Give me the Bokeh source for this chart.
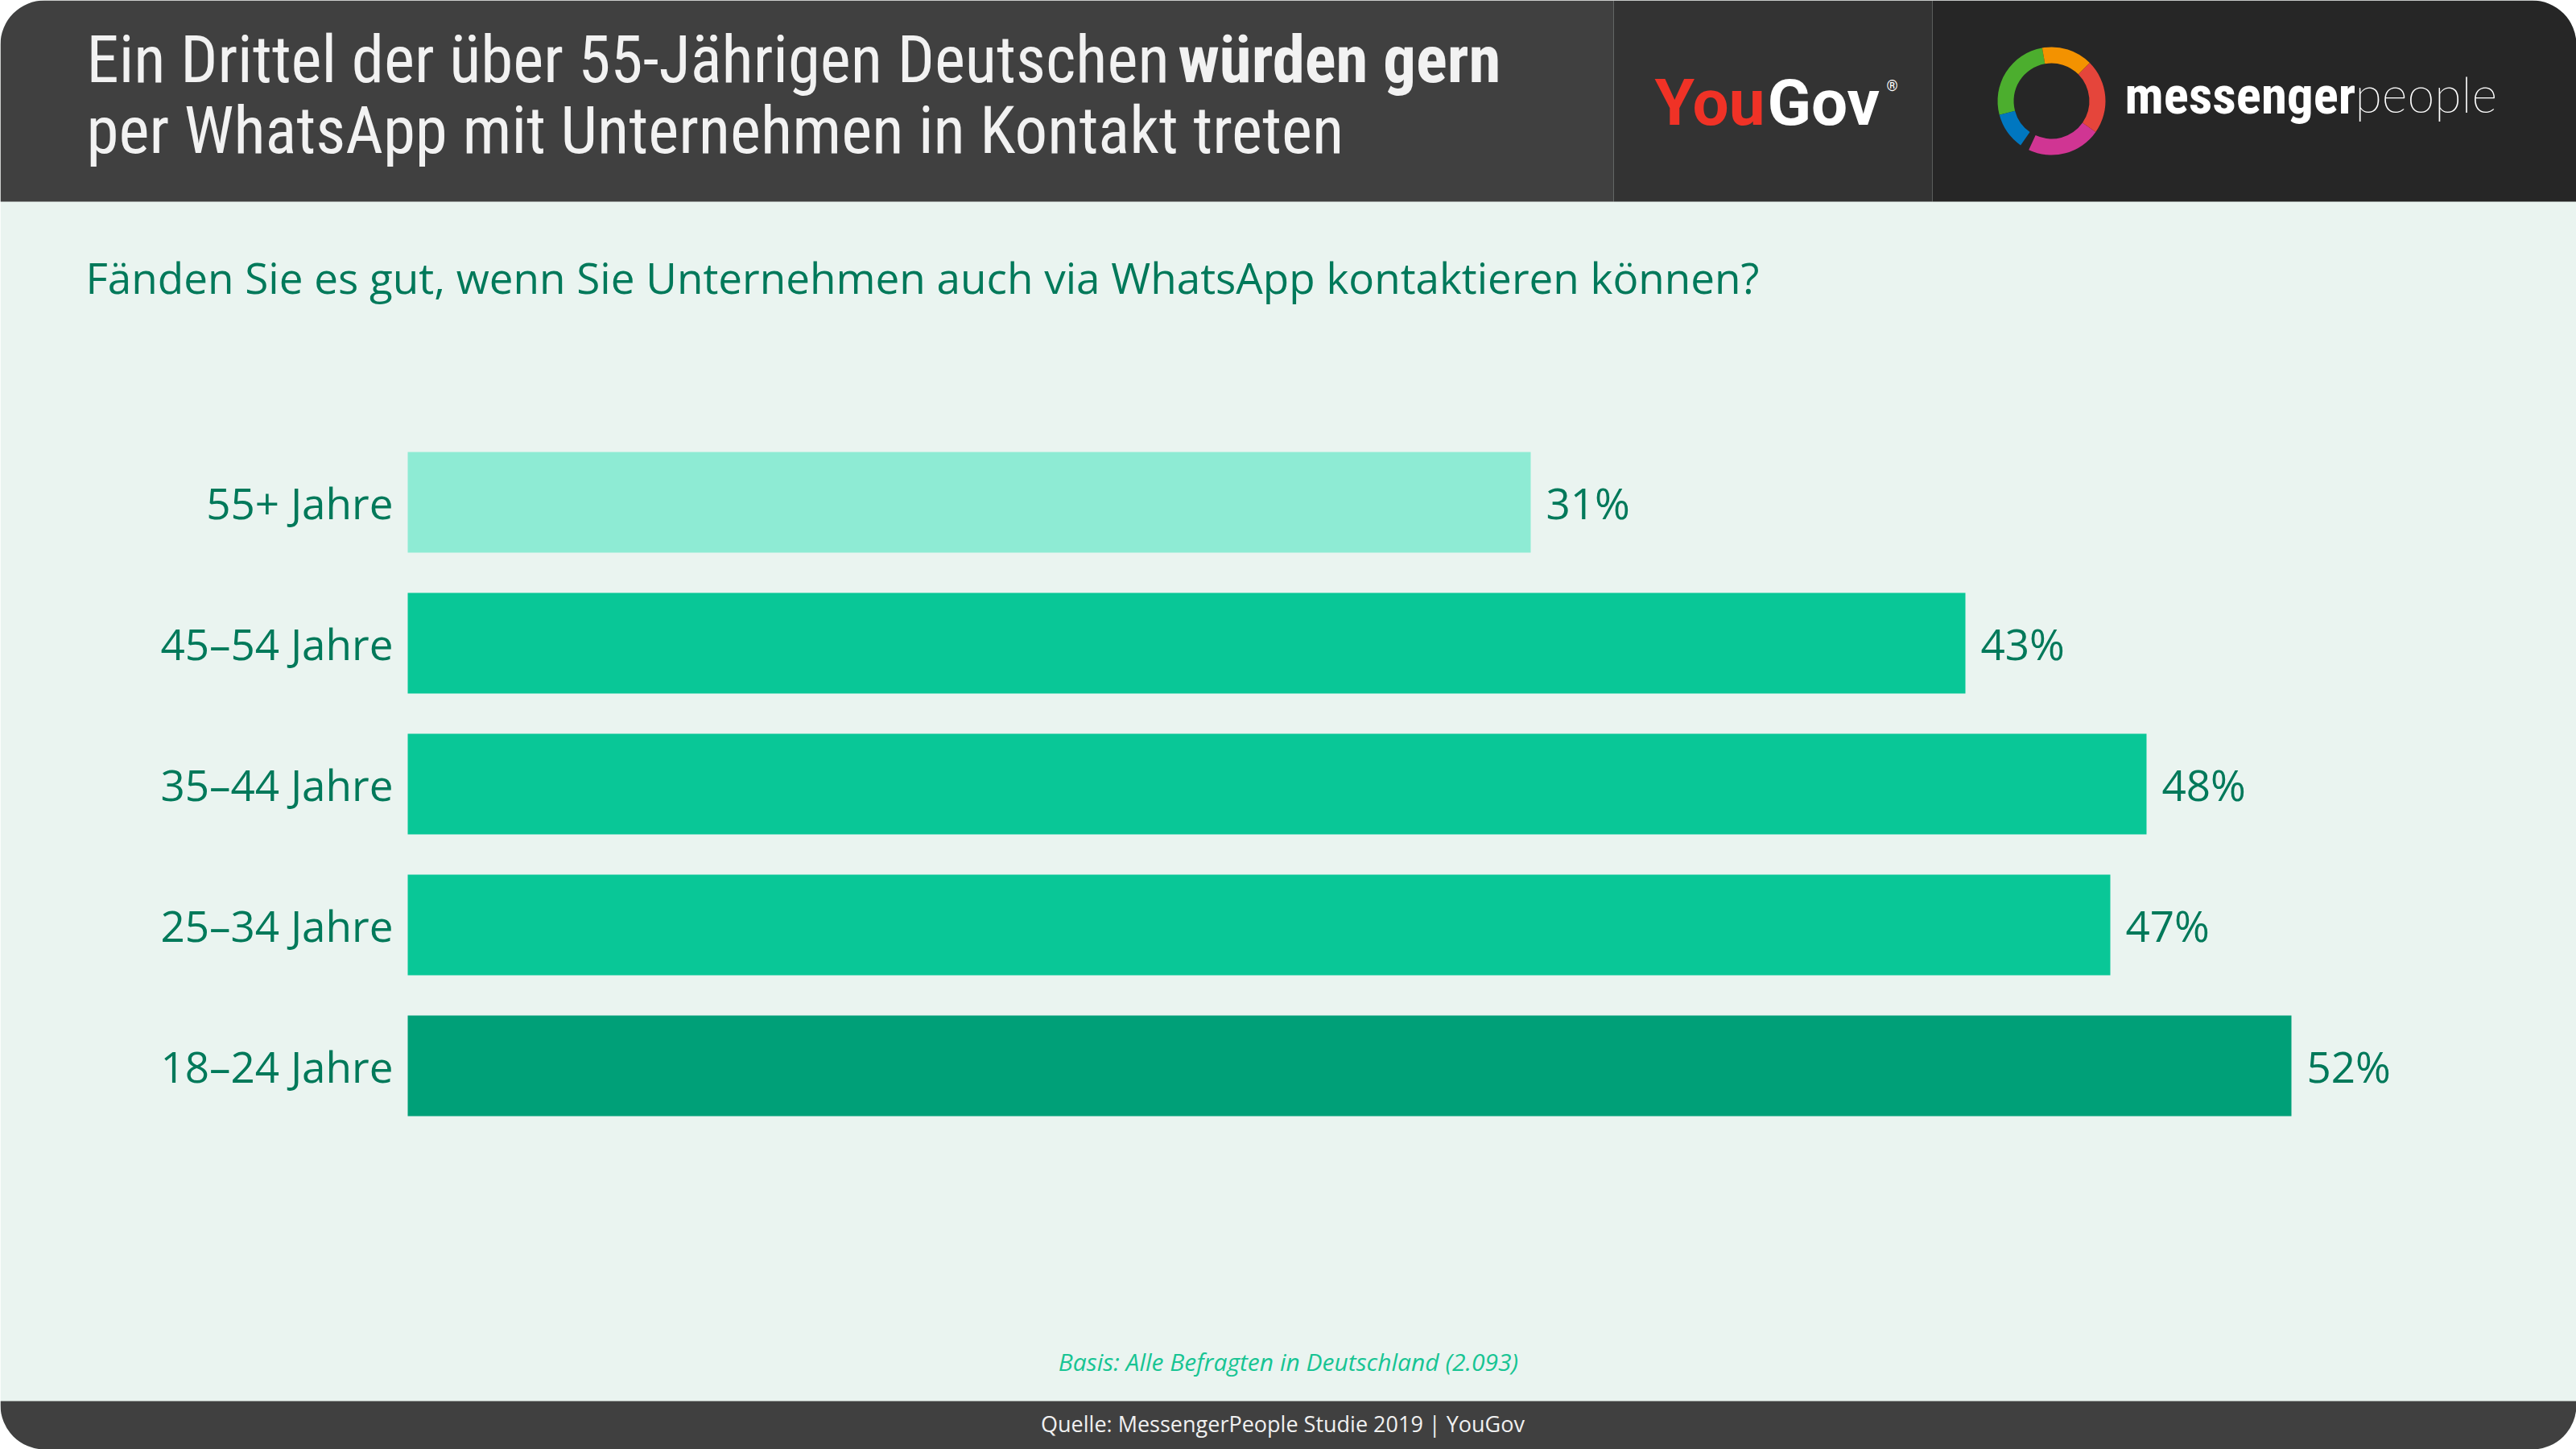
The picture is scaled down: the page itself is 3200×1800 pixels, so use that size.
from bokeh.plotting import figure
from bokeh.models import Range1d, ColumnDataSource
from bokeh.core.properties import value
from bokeh.embed import file_html
from bokeh.resources import INLINE

# ---------------- data ----------------
categories = ["55+ Jahre", "45–54 Jahre", "35–44 Jahre", "25–34 Jahre", "18–24 Jahre"]
shares = [31, 43, 48, 47, 52]
bar_colors = ["#8EEBD4", "#09C797", "#09C797", "#09C797", "#00A078"]
value_labels = [f"{v}%" for v in shares]

title_line1_regular = "Ein Drittel der über 55-Jährigen Deutschen"
title_line1_bold = "würden gern"
title_line2 = "per WhatsApp mit Unternehmen in Kontakt treten"
question = "Fänden Sie es gut, wenn Sie Unternehmen auch via WhatsApp kontaktieren können?"
basis = "Basis: Alle Befragten in Deutschland (2.093)"
source = "Quelle: MessengerPeople Studie 2019  |  YouGov"

# ---------------- layout ----------------
REF_W, REF_H = 3200, 1800
W, H = REF_W, REF_H
ZERO_PX = 506          # screen x of 0 %
PX_PER_PCT = 45        # pixels per percent
TOP_CENTER_PX = 623.5  # screen y of first bar centre
PITCH_PX = 175
BAR_H_PX = 125
n = len(categories)

pos = [n - 1 - i for i in range(n)]  # top category highest

x_range = Range1d((0 - ZERO_PX) / PX_PER_PCT, (REF_W - ZERO_PX) / PX_PER_PCT)
y_range = Range1d((n - 1) - (REF_H - TOP_CENTER_PX) / PITCH_PX,
                  (n - 1) + (TOP_CENTER_PX - 0) / PITCH_PX)


def U(y):
    return REF_H - y


FONT = "Open Sans"
TITLE_FONT = "Roboto Condensed, Roboto"
GREEN_TEXT = "#00795A"

p = figure(width=W, height=H, x_range=x_range, y_range=y_range,
           output_backend="svg", toolbar_location=None, min_border=0,
           x_axis_location=None, y_axis_location=None,
           background_fill_color="white", border_fill_color="white",
           outline_line_color=None)
p.xgrid.visible = False
p.ygrid.visible = False
p.extra_x_ranges = {"px": Range1d(0, REF_W)}
p.extra_y_ranges = {"py": Range1d(0, REF_H)}
PX = dict(x_range_name="px", y_range_name="py")

# card background
p.quad(left=[0], right=[REF_W], top=[U(0)], bottom=[U(REF_H)], fill_color="#EAF4F0",
       line_color=None, border_radius=55, **PX)
# header panels
p.quad(left=[0], right=[2004], top=[U(0)], bottom=[U(250)], fill_color="#404040",
       line_color=None, border_radius=(55, 0, 0, 0), **PX)
p.quad(left=[2004], right=[2400], top=[U(0)], bottom=[U(250)], fill_color="#333333",
       line_color=None, **PX)
p.quad(left=[2400], right=[REF_W], top=[U(0)], bottom=[U(250)], fill_color="#262626",
       line_color=None, border_radius=(0, 55, 0, 0), **PX)
# footer
p.quad(left=[0], right=[REF_W], top=[U(1740)], bottom=[U(REF_H)], fill_color="#404040",
       line_color=None, border_radius=(0, 0, 55, 55), **PX)

# title
p.text(x=[107], y=[U(74)], text=[title_line1_regular], text_font=value(TITLE_FONT),
       text_font_size="81px", text_color="#F2F2F2", text_baseline="middle", **PX)
p.text(x=[1463], y=[U(74)], text=[title_line1_bold], text_font=value(TITLE_FONT),
       text_font_size="81px", text_font_style="bold", text_color="#F2F2F2",
       text_baseline="middle", **PX)
p.text(x=[107], y=[U(162)], text=[title_line2], text_font=value(TITLE_FONT),
       text_font_size="81px", text_color="#F2F2F2", text_baseline="middle", **PX)

# YouGov logo
p.text(x=[2192], y=[U(127)], text=["You"], text_font=value("Roboto"), text_font_size="80px",
       text_font_style="bold", text_color="#F03226", text_align="right",
       text_baseline="middle", **PX)
p.text(x=[2195], y=[U(127)], text=["Gov"], text_font=value("Roboto"), text_font_size="80px",
       text_font_style="bold", text_color="#FFFFFF", text_baseline="middle", **PX)
p.text(x=[2343], y=[U(106)], text=["®"], text_font=value("Roboto"), text_font_size="18px",
       text_color="#FFFFFF", text_baseline="middle", **PX)

# messengerpeople logo ring
ring_start = [100, 195, 245, 325, 45]
ring_end = [195, 235, 325, 405, 100]
ring_colors = ["#4CAE2E", "#0077C0", "#D03593", "#E5453B", "#F39200"]
p.annular_wedge(x=[2548] * 5, y=[U(125)] * 5, inner_radius=47, outer_radius=67,
                start_angle=ring_start, end_angle=ring_end,
                start_angle_units="deg", end_angle_units="deg",
                fill_color=ring_colors, line_color=None, **PX)
p.text(x=[2639], y=[U(118)], text=["messenger"], text_font=value(TITLE_FONT),
       text_font_size="65px", text_font_style="bold", text_color="#FFFFFF",
       text_baseline="middle", **PX)
p.text(x=[2925], y=[U(116)], text=["people"], text_font=value("Lato Thin, Lato Hairline"),
       text_font_size="61px", text_color="#FFFFFF", text_align="left",
       text_baseline="middle", **PX)

# question
p.text(x=[106], y=[U(344)], text=[question], text_font=value(FONT), text_font_size="53px",
       text_color=GREEN_TEXT, text_baseline="middle", **PX)

# bars
src = ColumnDataSource(dict(pos=pos, share=shares, color=bar_colors, cat=categories,
                            lab=value_labels, zero=[0] * n))
p.hbar(y="pos", left="zero", right="share", height=BAR_H_PX / PITCH_PX, fill_color="color",
       line_color=None, source=src)
p.text(x="zero", y="pos", text="cat", x_offset=-18, text_align="right", text_baseline="middle",
       text_font=value(FONT), text_font_size="53px", text_color=GREEN_TEXT, source=src)
p.text(x="share", y="pos", text="lab", x_offset=19, text_align="left", text_baseline="middle",
       text_font=value(FONT), text_font_size="53px", text_color=GREEN_TEXT, source=src)

# basis and source
p.text(x=[1600], y=[U(1691)], text=[basis], text_font=value(FONT), text_font_size="30px",
       text_font_style="italic", text_color="#17C493", text_align="center",
       text_baseline="middle", **PX)
p.text(x=[1600], y=[U(1768)], text=[source], text_font=value(FONT), text_font_size="27px",
       text_color="#F0F0F0", text_align="center", text_baseline="middle", **PX)

open("out.html", "w").write(file_html(p, INLINE))
